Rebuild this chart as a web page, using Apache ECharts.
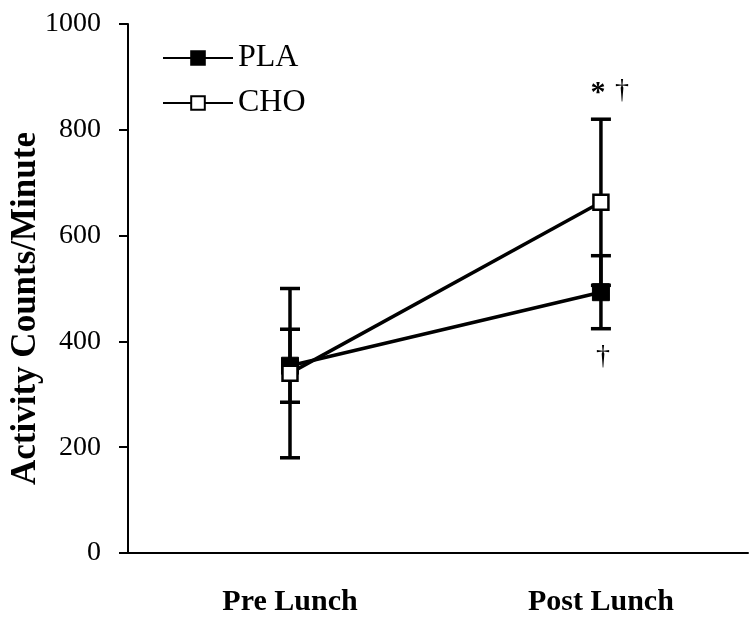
<!DOCTYPE html>
<html>
<head>
<meta charset="utf-8">
<script src="https://cdn.jsdelivr.net/npm/echarts@6/dist/echarts.min.js"></script>
<style>
html,body{margin:0;padding:0;background:#fff;}
#chart{width:751px;height:617px;}
</style>
</head>
<body>
<div id="chart"></div>
<script>
// ---- data ----
const categories = ['Pre Lunch', 'Post Lunch'];
const plaMean = [354, 493];
const plaSD = [69, 69];
const choMean = [340, 663];
const choSD = [160, 157];
const yMin = 0, yMax = 1000, yStep = 200;
// significance marks: [category index, value, text]
const marksCHO = [[1, 870, '*'], [1, 874, '†']];
const marksPLA = [[1, 372, '†']];

const FONT = 'Liberation Serif';

function pts(mean) { return mean.map((v, i) => [i, v]); }
function bars(mean, sd) { return mean.map((v, i) => [i, v - sd[i], v + sd[i]]); }

function renderErr(params, api) {
  const x = api.value(0);
  const lo = api.coord([x, api.value(1)]);
  const hi = api.coord([x, api.value(2)]);
  const hw = 10;
  const st = { stroke: '#000', lineWidth: 3.5 };
  return {
    type: 'group',
    children: [
      { type: 'line', shape: { x1: lo[0], y1: lo[1], x2: hi[0], y2: hi[1] }, style: st },
      { type: 'line', shape: { x1: hi[0] - hw, y1: hi[1], x2: hi[0] + hw, y2: hi[1] }, style: st },
      { type: 'line', shape: { x1: lo[0] - hw, y1: lo[1], x2: lo[0] + hw, y2: lo[1] }, style: st }
    ]
  };
}

function markData(list, offsets) {
  return list.map((m, k) => ({
    coord: [m[0], m[1]],
    symbol: 'circle', symbolSize: 1,
    itemStyle: { color: 'rgba(0,0,0,0)' },
    label: {
      show: true, formatter: m[2], position: 'inside',
      offset: offsets[k],
      fontFamily: FONT, fontSize: m[2] === '*' ? 30 : 28,
      fontWeight: m[2] === '*' ? 'bold' : 'normal', color: '#000'
    }
  }));
}

const chart = echarts.init(document.getElementById('chart'), null, { renderer: 'canvas' });
chart.setOption({
  animation: false,
  backgroundColor: '#fff',
  grid: { left: 128, right: 3, top: 24, bottom: 64, outerBoundsMode: 'none', containLabel: false },
  legend: {
    orient: 'vertical',
    left: 157, top: 37,
    itemWidth: 70, itemHeight: 17, itemGap: 13,
    textStyle: { fontFamily: FONT, fontSize: 32, color: '#000' },
    data: ['PLA', 'CHO']
  },
  xAxis: {
    type: 'value',
    min: -0.521, max: 1.473,
    axisLine: { show: true, onZero: false, lineStyle: { color: '#000', width: 2 } },
    axisTick: { show: false },
    splitLine: { show: false },
    axisLabel: {
      customValues: [0, 1],
      formatter: v => categories[Math.round(v)],
      fontFamily: FONT, fontSize: 30, fontWeight: 'bold', color: '#000', margin: 34
    }
  },
  yAxis: {
    type: 'value',
    min: yMin, max: yMax, interval: yStep,
    name: 'Activity Counts/Minute',
    nameLocation: 'middle', nameGap: 85, nameMoveOverlap: false,
    nameTextStyle: { fontFamily: FONT, fontSize: 35, fontWeight: 'bold', color: '#000', padding: [0, 40, 0, 0] },
    axisLine: { show: true, onZero: false, lineStyle: { color: '#000', width: 2 } },
    axisTick: { show: true, inside: false, length: 9, lineStyle: { color: '#000', width: 2 } },
    splitLine: { show: false },
    axisLabel: { fontFamily: FONT, fontSize: 28, color: '#000', margin: 27, formatter: v => String(v) }
  },
  series: [
    {
      name: 'CHO-err', type: 'custom', renderItem: renderErr, z: 1,
      data: bars(choMean, choSD), silent: true
    },
    {
      name: 'PLA-err', type: 'custom', renderItem: renderErr, z: 1,
      data: bars(plaMean, plaSD), silent: true
    },
    {
      name: 'PLA', type: 'line', z: 3,
      data: pts(plaMean),
      symbol: 'rect', symbolSize: 17,
      lineStyle: { color: '#000', width: 3.5 },
      itemStyle: { color: '#000', borderColor: '#000', borderWidth: 1 },
      markPoint: { data: markData(marksPLA, [[2, 0]]), silent: true }
    },
    {
      name: 'CHO', type: 'line', z: 4,
      data: pts(choMean),
      symbol: 'rect', symbolSize: 15,
      lineStyle: { color: '#000', width: 3.5 },
      itemStyle: { color: '#fff', borderColor: '#000', borderWidth: 2.5 },
      markPoint: { data: markData(marksCHO, [[-3, 0], [21, 0]]), silent: true }
    }
  ]
});
</script>
</body>
</html>
